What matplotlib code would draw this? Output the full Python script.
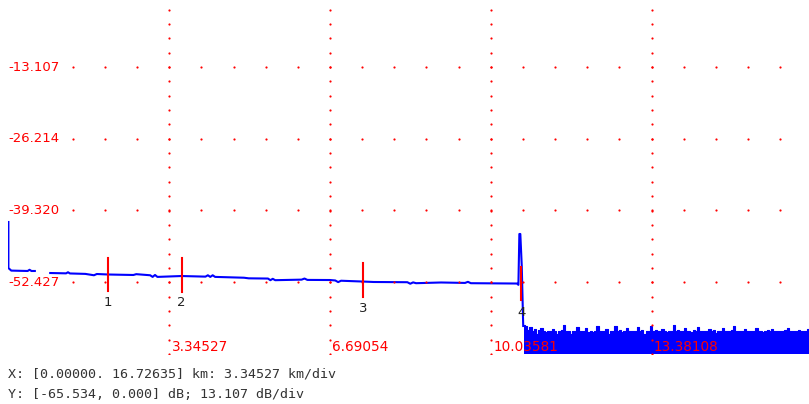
import matplotlib.pyplot as plt
import numpy as np

# Ejes (km / dB)
x_max = 16.72635
x_div = 3.34527
y_min = -65.534
y_div = 13.107
x_ticks = [3.34527, 6.69054, 10.03581, 13.38108]
x_tick_labels = ["3.34527", "6.69054", "10.03581", "13.38108"]
y_ticks = [-13.107, -26.214, -39.320, -52.427]
y_tick_labels = ["-13.107", "-26.214", "-39.320", "-52.427"]

# Traza principal
dist_km = [0.00, 0.00, 0.06, 0.40, 0.44, 0.48, 0.55, 0.60,
           0.87, 1.20, 1.24, 1.28, 1.60, 1.78, 1.84, 2.07, 2.30, 2.60, 2.66,
           2.95, 3.00, 3.05, 3.10, 3.60, 4.10, 4.15, 4.20, 4.25, 4.30, 4.90,
           5.00, 5.40, 5.45, 5.50, 5.55, 6.10, 6.16, 6.22, 6.69, 6.80, 6.86,
           6.92, 7.38, 7.60, 8.30, 8.36, 8.42, 8.48, 9.00, 9.50, 9.56, 9.62,
           10.58, 10.61, 10.63, 10.65, 10.68, 10.71]
level_db = [-41.42, -49.83, -50.30, -50.37, -50.15, -50.37, -50.37, np.nan,
            -50.74, -50.80, -50.60, -50.82, -50.90, -51.15, -50.92, -51.01,
            -51.05, -51.10, -50.95, -51.15, -51.45, -51.10, -51.45, -51.29,
            -51.40, -51.15, -51.45, -51.15, -51.45, -51.60, -51.71, -51.75,
            -52.05, -51.80, -52.05, -51.95, -51.75, -52.00, -52.02, -52.10,
            -52.40, -52.15, -52.30, -52.38, -52.42, -52.70, -52.45, -52.60,
            -52.47, -52.55, -52.35, -52.60, -52.66, -52.90, -43.61, -43.61,
            -49.50, -60.42]

# Ruido tras el final de la fibra
noise_db = [-60.2, -60.4, -61.2, -60.6, -61.4, -61.0, -61.9, -61.2, -60.7,
            -61.3, -61.5, -61.3, -61.4, -60.9, -61.4, -61.8, -61.3, -61.2,
            -60.3, -61.4, -61.3, -61.9, -61.3, -61.3, -60.6, -61.4, -61.3,
            -61.4, -60.8, -61.5, -61.3, -61.6, -61.3, -60.5, -61.4, -61.3,
            -61.3, -60.9, -61.8, -61.3, -61.4, -60.4, -61.3, -61.2, -61.5,
            -61.3, -60.7, -61.4, -61.3, -61.3, -61.4, -60.6, -61.3, -61.2,
            -61.9, -61.3, -61.4, -60.5, -61.3, -61.1, -61.4, -61.3, -60.9,
            -61.3, -61.6, -61.3, -61.4, -60.3, -61.3, -61.2, -61.4, -61.3,
            -60.8, -61.4, -61.3, -61.5, -61.2, -61.3, -60.6, -61.4, -61.3,
            -61.3, -61.4, -60.9, -61.3, -61.2, -61.7, -61.3, -61.4, -60.7,
            -61.3, -61.3, -61.4, -61.2, -60.5, -61.3, -61.4, -61.3, -61.3,
            -61.0, -61.4, -61.3, -61.3, -61.4, -60.8, -61.3, -61.3, -61.5,
            -61.3, -61.2, -61.4, -60.9, -61.3, -61.3, -61.4, -61.3, -61.3,
            -61.2, -60.8, -61.3, -61.4, -61.3, -61.3, -61.2, -61.3, -61.4,
            -61.3, -61.0, -61.3, -61.3]
noise_start_km = 10.72

# Marcadores
marker_km = [2.072, 3.605, 7.377, 10.674]
marker_db = [-51.01, -51.10, -52.02, -52.66]
marker_names = ["1", "2", "3", "4"]
marker_text_db = [-56.1, -56.1, -57.3, -57.9]

fig = plt.figure(figsize=(8.09, 4.04), dpi=100)
W, H = 809, 404
x0_px, y_bot_px = 8.4, 354
px_per_km = 160.8 / x_div
px_per_db = 71.75 / y_div
ax = fig.add_axes([x0_px / W, (H - y_bot_px) / H, (W - x0_px) / W, y_bot_px / H])
ax.set_xlim(0, (W - x0_px) / px_per_km)
ax.set_ylim(y_min, y_min + y_bot_px / px_per_db)
ax.axis("off")

# Rejilla de puntos
for yt in y_ticks:
    xs = np.arange(2, 26) * x_div / 5
    ax.scatter(xs, [yt] * len(xs), s=2.5, color="red", linewidths=0, zorder=5)
for xt in x_ticks:
    ys = -np.arange(1, 26) * y_div / 5
    ax.scatter([xt] * len(ys), ys, s=2.5, color="red", linewidths=0, zorder=5)

# Traza
ax.plot(dist_km, level_db, color="#0000FF", lw=1.5, zorder=3)
noise_km = np.linspace(noise_start_km, x_max, len(noise_db))
ax.fill_between(noise_km, noise_db, y_min, step="mid", color="#0000FF", lw=0, zorder=3)
ax.step(noise_km, noise_db, where="mid", color="#0000FF", lw=0.8, zorder=3)

# Marcadores
for km, db, name, tdb in zip(marker_km, marker_db, marker_names, marker_text_db):
    ax.plot([km, km], [db - 3.1, db + 3.1], color="red", lw=1.5, zorder=4)
    ax.text(km, tdb, name, color="#222222", fontsize=9.5, family="DejaVu Sans",
            ha="center", va="center", zorder=6)

# Etiquetas
for yt, lab in zip(y_ticks, y_tick_labels):
    ax.text(0, yt, lab, color="red", fontsize=9.5, family="DejaVu Sans",
            ha="left", va="center", zorder=6)
for xt, lab in zip(x_ticks, x_tick_labels):
    ax.text(xt + 0.05, y_min + 1.3, lab, color="red", fontsize=9.8,
            family="DejaVu Sans", ha="left", va="center", zorder=6)

fig.text(8 / W, 1 - 374 / H, "X: [0.00000. 16.72635] km: 3.34527 km/div",
         color="#333333", fontsize=9.6, family="DejaVu Sans Mono", va="center")
fig.text(8 / W, 1 - 394 / H, "Y: [-65.534, 0.000] dB; 13.107 dB/div",
         color="#333333", fontsize=9.6, family="DejaVu Sans Mono", va="center")

fig.savefig("out.png", dpi=100)
